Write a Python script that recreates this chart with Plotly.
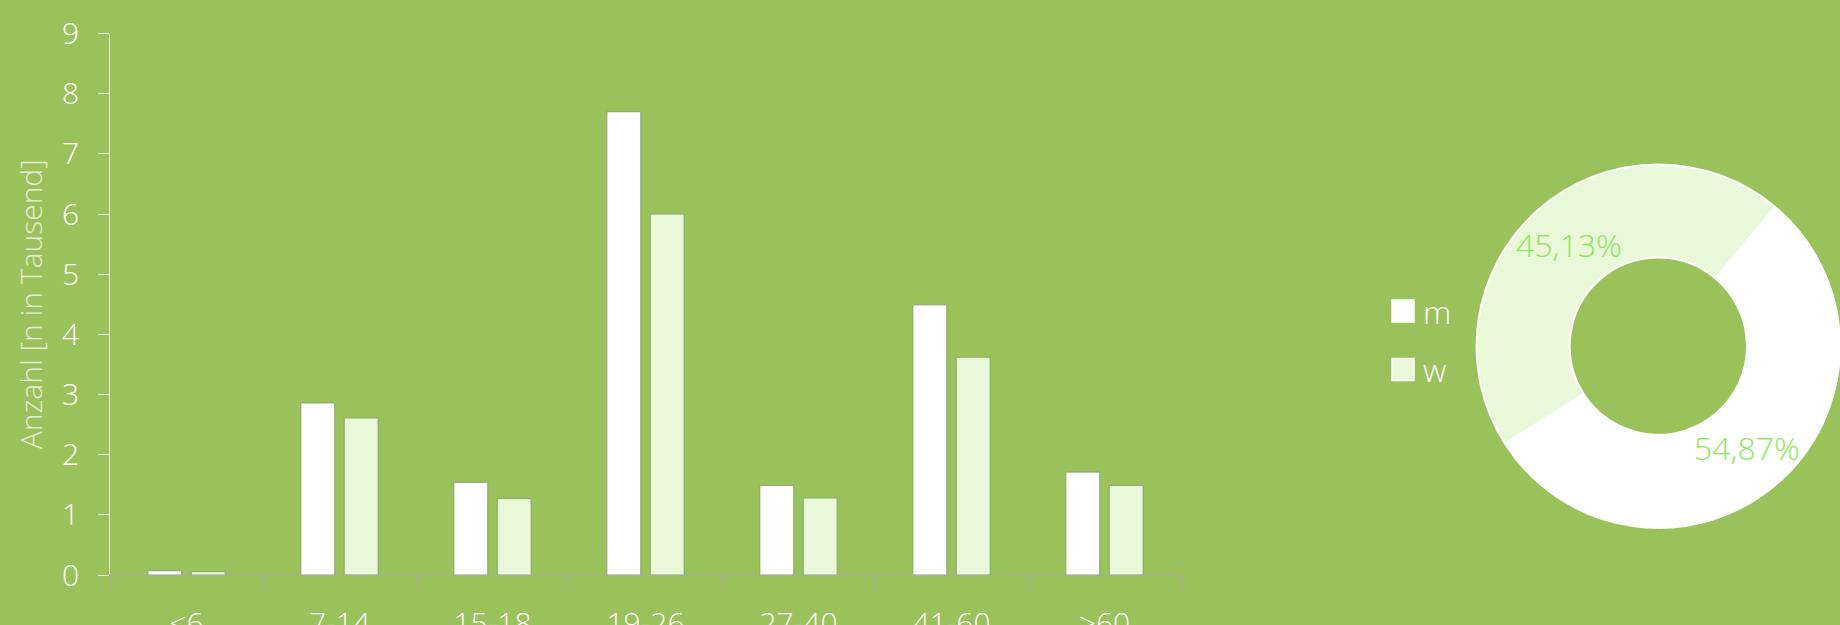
import math
import plotly.graph_objects as go

colors = {'bg': '#9ac25a', 'white': '#ffffff', 'light_green': '#e8f8d8',
          'bar_edge': '#86a56a', 'axis_grey': '#a8ab9e', 'axis_light': '#e4ebdc',
          'pct_green': '#8de85a'}

# age groups and counts (in thousands)
age_groups = ['<6', '7-14', '15-18', '19-26', '27-40', '41-60', '>60']
male = [0.07, 2.86, 1.54, 7.70, 1.49, 4.49, 1.71]
female = [0.055, 2.61, 1.27, 6.00, 1.28, 3.62, 1.49]

# gender share
genders = ['m', 'w']
gender_share = [54.87, 45.13]
gender_labels = ['54,87%', '45,13%']

y_ticks = list(range(0, 10))

W, H = 1840, 625
font_family = 'Open Sans'

pie_rotation = 40
pie_hole = 0.488
pie_x = [1476.6 / W, 1.0]
pie_y = [(H - 528.5) / H, (H - 163.8) / H]


def get_layout():
    layout = go.Layout(
        width=W,
        height=H,
        paper_bgcolor=colors['bg'],
        plot_bgcolor=colors['bg'],
        font=dict(family=font_family, size=30, color=colors['white'], weight=300),
        margin=dict(l=0, r=0, t=0, b=0),
        showlegend=False,
        barmode='group',
        bargap=0.433,
        bargroupgap=0.217,
        xaxis=dict(
            domain=[110 / W, 1181 / W],
            type='category',
            showgrid=False,
            showline=True,
            linecolor=colors['axis_grey'],
            linewidth=1,
            ticks='outside',
            tickson='boundaries',
            ticklen=12,
            tickcolor=colors['axis_grey'],
            ticklabelstandoff=22,
            automargin=False,
            zeroline=False,
        ),
        yaxis=dict(
            domain=[(H - 575) / H, (H - 33.5) / H],
            range=[0, 9],
            tickvals=y_ticks,
            showgrid=False,
            showline=True,
            linecolor=colors['axis_light'],
            linewidth=1,
            ticks='outside',
            ticklen=11,
            tickcolor=colors['axis_light'],
            ticklabelstandoff=13,
            zeroline=False,
            automargin=False,
            title=dict(text='Anzahl [n in Tausend]', standoff=10,
                       font=dict(size=30, color='rgba(255,255,255,0.72)')),
        ),
    )
    return layout


fig = go.Figure(layout=get_layout())

for name, values, color in [('m', male, colors['white']), ('w', female, colors['light_green'])]:
    fig.add_trace(go.Bar(x=age_groups, y=values, name=name,
                         marker=dict(color=color, line=dict(color=colors['bar_edge'], width=1)),
                         hoverinfo='skip'))

fig.add_trace(go.Pie(
    labels=genders, values=gender_share, textinfo='none',
    hole=pie_hole, sort=False, direction='clockwise', rotation=pie_rotation,
    marker=dict(colors=[colors['white'], colors['light_green']],
                line=dict(color=colors['white'], width=2)),
    domain=dict(x=pie_x, y=pie_y),
    hoverinfo='skip',
))

# percent labels: horizontal, at the middle of each ring segment
r_px = min((pie_x[1] - pie_x[0]) * W, (pie_y[1] - pie_y[0]) * H) / 2
r_mid = r_px * (1 + pie_hole) / 2
cx = (pie_x[0] + pie_x[1]) / 2
cy = (pie_y[0] + pie_y[1]) / 2
total = sum(gender_share)
start = pie_rotation
for share, label in zip(gender_share, gender_labels):
    sweep = share / total * 360
    mid = math.radians(start + sweep / 2)
    fig.add_annotation(text=label, xref='paper', yref='paper',
                       x=cx + r_mid * math.sin(mid) / W, y=cy + r_mid * math.cos(mid) / H,
                       xanchor='center', yanchor='middle', showarrow=False,
                       font=dict(size=32, color=colors['pct_green']))
    start += sweep

# legend drawn by hand so the swatches can be as large as in the original
legend_fill = [colors['white'], colors['light_green']]
for i, g in enumerate(genders):
    top = 300 + i * 58.5
    fig.add_shape(type='rect', xref='paper', yref='paper',
                  x0=1392 / W, x1=1414 / W, y0=1 - (top + 22) / H, y1=1 - top / H,
                  fillcolor=legend_fill[i], line=dict(color=colors['white'], width=1.5))
    fig.add_annotation(text=g, xref='paper', yref='paper', x=1421 / W, y=1 - (top + 11) / H,
                       xanchor='left', yanchor='middle', showarrow=False,
                       font=dict(size=32, color=colors['white']))

fig.write_html('out.html', config={'displayModeBar': False},
               post_script="document.body.style.margin='0';")
